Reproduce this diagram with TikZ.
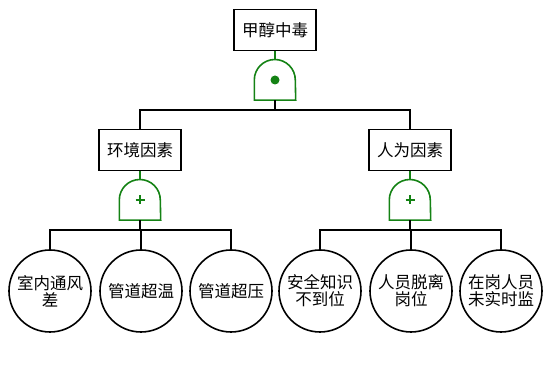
\documentclass[tikz,border=0pt]{standalone}
\usepackage{fontspec}
\newfontfamily\cjk{Noto Sans CJK SC}
\definecolor{gatecol}{RGB}{20,130,20}
\begin{document}
\begin{tikzpicture}[x=1pt, y=-1pt,
    event/.style={rectangle, draw=black, line width=1.6pt, minimum width=82pt, minimum height=41pt, inner sep=1pt, fill=white, font=\cjk\fontsize{16.5}{19}\selectfont},
    basic/.style={circle, draw=black, line width=1.6pt, minimum size=82pt, inner sep=0pt, align=center, fill=white, font=\cjk\fontsize{16.5}{17}\selectfont},
    gate/.style={minimum width=41pt, minimum height=40pt, inner sep=0pt},
    link/.style={line width=2pt, black},
    glink/.style={line width=1.6pt, gatecol}
]
\useasboundingbox (0,0) rectangle (550,390);

% Top event
\node[event] (top) at (275,30) {甲醇中毒};
\node[gate] (g0) at (275,80) {};
\fill[gatecol] (g0) circle (4.5pt);

% Intermediate events
\node[event] (env) at (140,150) {环境因素};
\node[event] (hum) at (410,150) {人为因素};
\node[gate] (g1) at (140,200) {};
\node[gate] (g2) at (410,200) {};
\foreach \g in {g1,g2}
  \draw[gatecol, line width=2pt] (\g) ++(-4.5,0) -- ++(9,0) (\g) ++(0,-4.5) -- ++(0,9);

% Basic events
\node[basic] (e1) at (50,291) {室内通风\\差};
\node[basic] (e2) at (141,291) {管道超温};
\node[basic] (e3) at (231,291) {管道超压};
\node[basic] (e4) at (320,291) {安全知识\\不到位};
\node[basic] (e5) at (411,291) {人员脱离\\岗位};
\node[basic] (e6) at (501,291) {在岗人员\\未实时监};

% Gate outlines
\foreach \g in {g0,g1,g2}
  \draw[glink] (\g.south west) -- (\g.west) arc[start angle=180, end angle=0, radius=20.5pt] -- (\g.south east) -- cycle;

% Bus points
\coordinate (b0) at (275,110);
\coordinate (b1) at (140,230);
\coordinate (b2) at (410,230);

% Connectors
\draw[glink] (top) -- (g0);
\draw[glink] (env) -- (g1);
\draw[glink] (hum) -- (g2);
\draw[link] (g0.south) -- (b0);
\draw[link] (env.north) |- (b0) -| (hum.north);
\draw[link] (g1.south) -- (b1);
\draw[link] (e1.north) |- (b1) -| (e3.north);
\draw[link] (e2.north) -- (e2.north |- b1);
\draw[link] (g2.south) -- (b2);
\draw[link] (e4.north) |- (b2) -| (e6.north);
\draw[link] (e5.north) -- (e5.north |- b2);

\end{tikzpicture}
\end{document}
